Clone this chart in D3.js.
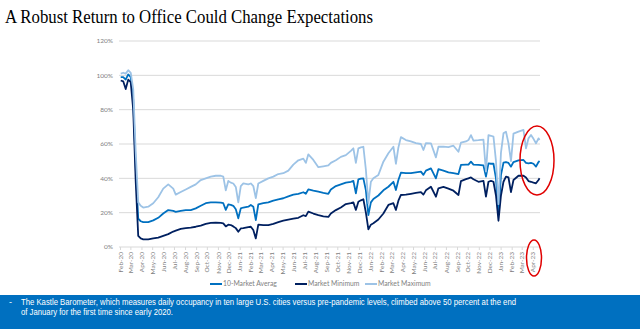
<!DOCTYPE html>
<html>
<head>
    <title>A Robust Return to Office Could Change Expectations</title>
    <script src="https://d3js.org/d3.v7.min.js"></script>
    <style>
        body { margin: 0; background: #fff; }
        .tick-label { font-family: Lato, "Open Sans", sans-serif; fill: #7f7f7f; }
    </style>
</head>
<body>
    <svg id="chart"></svg>

    <script>
        // Weekly readings of the Kastle barometer (% of pre-pandemic occupancy)
        var dates = ['2020-02-03','2020-02-10','2020-02-17','2020-02-24','2020-03-02','2020-03-09','2020-03-16','2020-03-23','2020-03-30','2020-04-06',
            '2020-04-20','2020-05-04','2020-05-18','2020-06-01','2020-06-15','2020-06-29','2020-07-06','2020-07-20','2020-08-03','2020-08-17',
            '2020-08-31','2020-09-14','2020-09-28','2020-10-12','2020-10-26','2020-11-09','2020-11-16','2020-11-23','2020-11-30','2020-12-07',
            '2020-12-14','2020-12-21','2020-12-28','2021-01-04','2021-01-11','2021-01-25','2021-02-01','2021-02-08','2021-02-15','2021-02-22',
            '2021-03-08','2021-03-22','2021-04-05','2021-04-19','2021-05-03','2021-05-17','2021-05-31','2021-06-14','2021-06-28','2021-07-05',
            '2021-07-12','2021-07-26','2021-08-09','2021-08-23','2021-09-06','2021-09-13','2021-09-27','2021-10-11','2021-10-25','2021-11-08',
            '2021-11-15','2021-11-22','2021-11-29','2021-12-06','2021-12-13','2021-12-20','2021-12-27','2022-01-03','2022-01-10','2022-01-24',
            '2022-02-07','2022-02-21','2022-03-07','2022-03-14','2022-03-21','2022-03-28','2022-04-11','2022-04-25','2022-05-09','2022-05-23',
            '2022-05-30','2022-06-06','2022-06-20','2022-07-04','2022-07-11','2022-07-25','2022-08-08','2022-08-22','2022-09-05','2022-09-12',
            '2022-09-26','2022-10-03','2022-10-10','2022-10-17','2022-10-31','2022-11-14','2022-11-21','2022-11-28','2022-12-05','2022-12-12',
            '2022-12-19','2022-12-26','2023-01-02','2023-01-09','2023-01-16','2023-01-23','2023-01-30','2023-02-06','2023-02-20','2023-03-06',
            '2023-03-13','2023-03-20','2023-03-27','2023-04-03','2023-04-10','2023-04-17','2023-04-20'];

        var avgVals = [99, 99, 97.5, 100.5, 99, 86, 46, 16.5, 15, 14.5,
            14.5, 15.5, 17, 19.5, 21.5, 21, 20.5, 21, 21.5, 21.5,
            22.5, 24, 25.5, 26, 26, 25.8, 25.5, 21.6, 24.8, 24.5,
            24, 22, 16.7, 22.5, 23, 23.5, 24.5, 23.5, 15.7, 24.8,
            25.5, 26, 27, 27.8, 28.4, 29.5, 30.5, 31, 31.9, 31,
            33.6, 32.8, 32.2, 31.5, 31, 33.5, 35.5, 36.5, 37.5, 38,
            38.5, 31.3, 39.4, 39.8, 40, 33, 18.6, 26, 28, 30,
            33, 35.1, 38, 33.2, 39, 43.3, 43, 43, 43.5, 43.9,
            42, 44.5, 45.8, 40, 45.3, 44.5, 43.5, 43, 42.5, 47.8,
            48, 48, 49.7, 48, 47.8, 47.5, 41, 48.7, 48.5, 48.5,
            40, 19, 42, 49.1, 49.5, 49, 46.8, 49.5, 50.5, 50.7,
            49, 48.7, 49, 48.5, 46.8, 49.5, 50.1];

        var minVals = [97, 96.5, 92, 97.5, 96, 80, 38, 6.5, 5, 4.5,
            4.5, 5, 5.5, 6.5, 7.5, 9, 9.5, 10.5, 11, 11.3,
            11.8, 12.5, 13.5, 14, 14.2, 14, 13.8, 12, 13, 12.8,
            12, 11, 8.9, 10.8, 11, 11.6, 11.8, 9.9, 5, 13,
            12.8, 12.8, 13.5, 14.5, 15.3, 16, 16.5, 17, 18.5, 18,
            20.6, 19.5, 18.6, 17.8, 17.5, 19.5, 21.5, 23, 25, 25.5,
            26, 21.6, 26.4, 27.2, 27.8, 20, 10.3, 13, 13.8, 16,
            19.5, 24.5, 25.5, 21.6, 27, 30.3, 30.5, 31, 31.5, 32,
            30.5, 33, 35.1, 29.3, 34.2, 35, 34, 32.8, 30.3, 38.4,
            39.5, 40, 40.5, 39.5, 38, 38.5, 29.3, 38, 38.5, 38,
            30, 15.3, 30, 38, 41, 40.5, 32, 39, 41.5, 41.5,
            40.5, 38.4, 38, 37.5, 37.1, 39, 40];

        var maxVals = [101, 101.5, 101, 103, 101.5, 92, 55, 26, 24, 23,
            23.5, 25.5, 29, 34, 36.5, 34, 30.5, 32, 33.5, 35,
            36.5, 39, 40, 41, 41.5, 41.5, 41, 33, 38.5, 37.5,
            37, 35, 26, 35.5, 37, 36.5, 37, 35.5, 28.5, 37,
            38.5, 40, 41, 42.5, 43, 44.5, 48, 50.5, 51.5, 49,
            54, 50.7, 46.5, 47, 47.5, 49, 50.5, 52.5, 53.5, 56,
            57.5, 49, 57.5, 58, 58.4, 45, 25.5, 38, 40, 42,
            49.7, 54.6, 58.4, 48.5, 58, 64, 62.3, 61.5, 60.5, 60,
            56.5, 60.5, 60.4, 52.2, 58.4, 58.5, 58.2, 59, 55.5, 60.8,
            61.5, 62.3, 65.2, 62, 62.2, 62.5, 43.9, 65.2, 64.8, 64.3,
            50, 25, 55, 66.2, 67.2, 60.4, 50, 66, 67.2, 68.2,
            57.5, 63.3, 65.2, 63, 60.4, 63.3, 62.3];

        var yTicks = [0, 20, 40, 60, 80, 100, 120];
        var seriesNames = ['10-Market Averag', 'Market Minimum', 'Market Maximum'];
        var seriesColors = ['#0070C0', '#002060', '#9DC3E6'];

        var titleText = 'A Robust Return to Office Could Change Expectations';
        var noteLine1 = 'The Kastle Barometer, which measures daily occupancy in ten large U.S. cities versus pre-pandemic levels, climbed above 50 percent at the end';
        var noteLine2 = 'of January for the first time since early 2020.';

        var W = 640, H = 329;
        var svg = d3.select('#chart').attr('width', W).attr('height', H);

        var parse = d3.timeParse('%Y-%m-%d');
        var x = d3.scaleTime()
            .domain([new Date(2020, 1, 1), new Date(2023, 4, 1)])
            .range([120, 543.5]);
        var y = d3.scaleLinear().domain([0, 120]).range([247, 41]);

        // title
        svg.append('text')
            .attr('x', 5).attr('y', 23)
            .attr('font-family', '"Liberation Serif", "Times New Roman", serif')
            .attr('font-size', 18)
            .attr('textLength', 368).attr('lengthAdjust', 'spacingAndGlyphs')
            .text(titleText);

        // gridlines
        svg.append('g').selectAll('line')
            .data(yTicks)
            .enter().append('line')
            .attr('x1', 119).attr('x2', 540)
            .attr('y1', d => y(d)).attr('y2', d => y(d))
            .attr('stroke', '#d9d9d9').attr('stroke-width', 1);

        // y labels
        svg.append('g').selectAll('text')
            .data(yTicks)
            .enter().append('text')
            .attr('class', 'tick-label')
            .attr('x', 113).attr('y', d => y(d) + 2.3)
            .attr('text-anchor', 'end')
            .attr('font-size', 6.5)
            .text(d => d + '%');

        // x axis, one label per month Feb-20 .. Apr-23
        var xAxis = d3.axisBottom(x)
            .tickValues(d3.timeMonth.range(new Date(2020, 1, 1), new Date(2023, 4, 1)))
            .tickFormat(d3.timeFormat('%b-%y'))
            .tickSize(3);
        var gx = svg.append('g')
            .attr('transform', 'translate(0,' + y(0) + ')')
            .call(xAxis);
        gx.select('.domain').remove();
        gx.selectAll('.tick line').attr('stroke', '#d9d9d9');
        gx.selectAll('.tick text')
            .attr('class', 'tick-label')
            .attr('font-size', 6.5)
            .attr('transform', 'rotate(-90)')
            .attr('text-anchor', 'end')
            .attr('x', -5).attr('y', 0).attr('dy', '0.32em');

        // lines
        var rows = dates.map((d, i) => ({ date: parse(d), avg: avgVals[i], min: minVals[i], max: maxVals[i] }));
        var keys = ['avg', 'min', 'max'];
        keys.forEach(function (k, i) {
            var line = d3.line().x(d => x(d.date)).y(d => y(d[k]));
            svg.append('path')
                .datum(rows)
                .attr('fill', 'none')
                .attr('stroke', seriesColors[i])
                .attr('stroke-width', 1.8)
                .attr('stroke-linejoin', 'round')
                .attr('d', line);
        });

        // legend
        var legendX = [210, 295, 365];
        var legend = svg.append('g').selectAll('g')
            .data(seriesNames)
            .enter().append('g')
            .attr('transform', (d, i) => 'translate(' + legendX[i] + ',284)');
        legend.append('line')
            .attr('x1', 0).attr('x2', 12)
            .attr('stroke', (d, i) => seriesColors[i]).attr('stroke-width', 2);
        legend.append('text')
            .attr('class', 'tick-label')
            .attr('x', 13).attr('y', 2.4)
            .attr('font-size', 6.8)
            .attr('fill', '#595959')
            .text(d => d);

        // annotation ellipses
        svg.append('ellipse')
            .attr('cx', 537).attr('cy', 160.5).attr('rx', 17).attr('ry', 34.5)
            .attr('fill', 'none').attr('stroke', '#e00000').attr('stroke-width', 1.5);
        svg.append('ellipse')
            .attr('cx', 534).attr('cy', 258).attr('rx', 7.5).attr('ry', 18)
            .attr('fill', 'none').attr('stroke', '#e00000').attr('stroke-width', 1.5);

        // bottom note band
        svg.append('rect')
            .attr('x', 0).attr('y', 295).attr('width', W).attr('height', H - 295)
            .attr('fill', '#0070C0');
        var note = svg.append('g')
            .attr('font-family', '"Liberation Sans Narrow", "Liberation Sans", Arial, sans-serif')
            .attr('font-size', 9)
            .attr('fill', '#fff');
        note.append('text').attr('x', 9).attr('y', 305).text('-');
        note.append('text').attr('x', 21).attr('y', 305)
            .attr('textLength', 495).attr('lengthAdjust', 'spacingAndGlyphs')
            .text(noteLine1);
        note.append('text').attr('x', 21).attr('y', 315)
            .attr('textLength', 152).attr('lengthAdjust', 'spacingAndGlyphs')
            .text(noteLine2);
    </script>
</body>
</html>
